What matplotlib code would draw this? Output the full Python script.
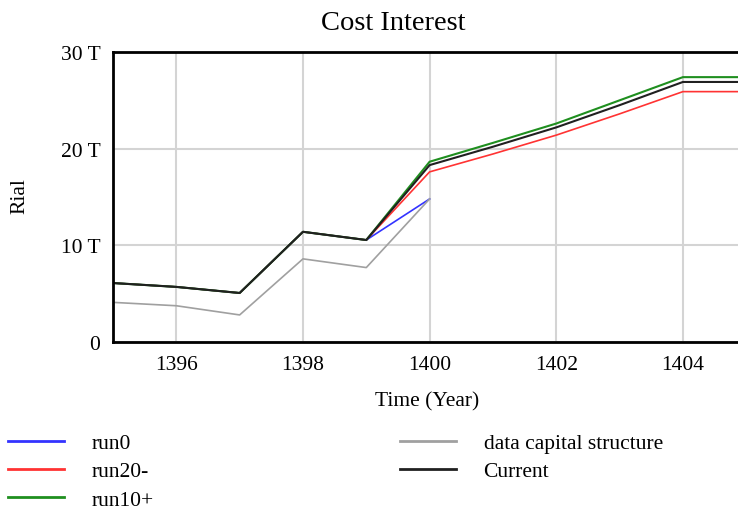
import matplotlib.pyplot as plt
from matplotlib.ticker import FuncFormatter

# values in trillions of Rial
years = [1395, 1396, 1397, 1398, 1399, 1400, 1401, 1402, 1403, 1404, 1405]
current = [6.1, 5.7, 5.07, 11.4, 10.55, 18.3, 20.2, 22.2, 24.5, 26.9, 26.9]
run10p = [6.1, 5.7, 5.07, 11.4, 10.55, 18.65, 20.6, 22.6, 25.0, 27.4, 27.4]
run20m = [6.1, 5.7, 5.07, 11.4, 10.55, 17.6, 19.45, 21.4, 23.6, 25.9, 25.9]
run0_years = [1395, 1396, 1397, 1398, 1399, 1400]
run0 = [6.1, 5.7, 5.07, 11.4, 10.55, 14.8]
data_years = [1395, 1396, 1397, 1398, 1399, 1400]
data_cap = [4.1, 3.75, 2.8, 8.6, 7.7, 14.8]

plt.rcParams['font.family'] = ['Liberation Serif', 'DejaVu Serif']

fig = plt.figure(figsize=(7.38, 5.10), dpi=100)
ax = fig.add_axes([113 / 738, 1 - 343 / 510, 1 - 113 / 738, 290 / 510])

l_run0, = ax.plot(run0_years, run0, color='#3333ff', lw=1.2, label='run0')
l_data, = ax.plot(data_years, data_cap, color='#a0a0a0', lw=1.2, label='data capital structure')
l_red, = ax.plot(years, run20m, color='#ff3333', lw=1.2, label='run20-')
l_green, = ax.plot(years, run10p, color='#1f8f1f', lw=1.5, label='run10+')
l_cur, = ax.plot(years, current, color='#202020', lw=1.5, label='Current')

ax.set_xlim(1395, 1404.87)
ax.set_ylim(0, 30)
ax.set_xticks([1396, 1398, 1400, 1402, 1404])
ax.set_yticks([0, 10, 20, 30])
ax.yaxis.set_major_formatter(FuncFormatter(lambda v, p: '0' if v == 0 else f'{int(v)} T'))
ax.tick_params(length=0, labelsize=15.5, pad=9)
ax.grid(True, color='#d4d4d4', lw=1.5)
ax.set_axisbelow(True)
for s in ['left', 'top', 'bottom']:
    ax.spines[s].set_linewidth(2)
ax.spines['right'].set_visible(False)

fig.text(393.5 / 738, 1 - 23 / 510, 'Cost Interest', fontsize=20.5, ha='center', va='center')
fig.text(427 / 738, 1 - 402 / 510, 'Time (Year)', fontsize=15.5, ha='center', va='center')
fig.text(20 / 738, 1 - 196 / 510, 'Rial', rotation=90, fontsize=15.5, ha='center', va='center')

leg = fig.legend([l_run0, l_red, l_green, l_data, l_cur],
                 ['run0', 'run20-', 'run10+', 'data capital structure', 'Current'],
                 ncol=2, loc='upper left', bbox_to_anchor=(0.011, 1 - 434 / 510),
                 frameon=False, fontsize=15.5, handlelength=2.6, handletextpad=1.3,
                 columnspacing=11.4, labelspacing=0.38, borderaxespad=0, borderpad=0.0)
for h in leg.get_lines():
    h.set_linewidth(2)

fig.savefig('out.png', dpi=100)
